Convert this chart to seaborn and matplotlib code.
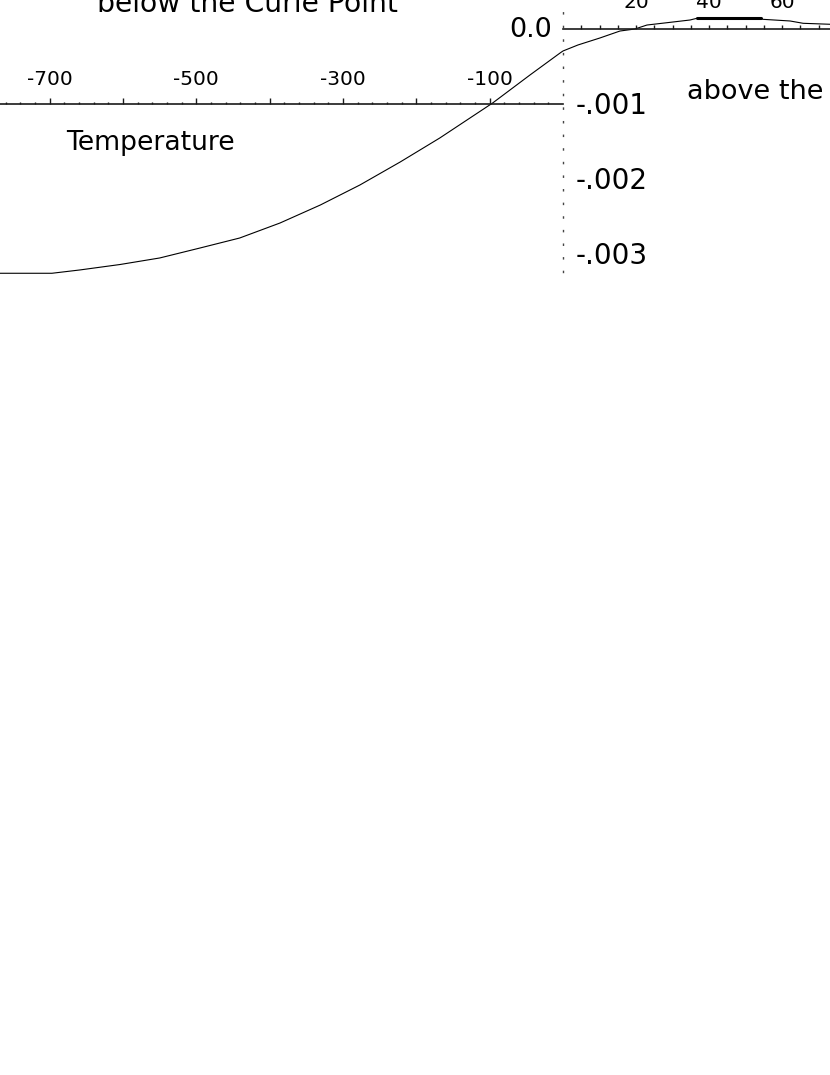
import numpy as np
import pandas as pd
import seaborn as sns
import matplotlib.pyplot as plt

# curve below the Curie point (left panel, temperature scale -770..0)
temp_below = [-768, -697, -659, -604, -550, -495, -441, -386, -331, -277,
              -222, -195, -168, -96, -45, -4, 0]
strain_below = [-0.003257, -0.003257, -0.003213, -0.00314, -0.003053, -0.00292,
                -0.002787, -0.002587, -0.002347, -0.00208, -0.001773, -0.001613,
                -0.001453, -0.000987, -0.000613, -0.00032, -0.000293]

# curve above the Curie point (right panel, temperature scale 0..73)
temp_above = [0, 4.1, 10.1, 15.6, 19.7, 23.0, 28.5, 34.8, 36.7, 54.2, 54.8,
              62.2, 65.8, 73.2]
strain_above = [-0.000293, -0.000213, -0.00012, -0.000027, 0.0, 0.000053,
                0.000084, 0.00012, 0.000143, 0.000143, 0.000129, 0.000107,
                0.000076, 0.000063]

# short bold plateau on the upper curve
plateau_temp = [36.7, 54.2]
plateau_strain = [0.000143, 0.000143]

left_ticks = [-700, -600, -500, -400, -300, -200, -100]
left_labels = ["-700", "", "-500", "", "-300", "", "-100"]
right_ticks = [5, 10, 15, 20, 25, 30, 35, 40, 45, 50, 55, 60, 65, 70]
right_labels = ["", "", "", "20", "", "", "", "40", "", "", "", "60", "", ""]
y_labels = ["-.001", "-.002", "-.003"]
y_label_vals = [-0.001, -0.002, -0.003]

sns.set_style("white")
plt.rcParams["font.family"] = ["DejaVu Sans"]
plt.rcParams["text.color"] = "black"
plt.rcParams["xtick.labelcolor"] = "black"

W, H = 830, 1075
fig = plt.figure(figsize=(W / 100, H / 100), dpi=100)
split = 563 / W
ax_l = fig.add_axes([0, 0, split, 1])
ax_r = fig.add_axes([split, 0, 1 - split, 1])

ylim = (-0.013947, 0.0003867)
axis_col = "#1a1a1a"

df_below = pd.DataFrame({"Temperature": temp_below, "strain": strain_below})
df_above = pd.DataFrame({"Temperature": temp_above, "strain": strain_above})

sns.lineplot(data=df_below, x="Temperature", y="strain", ax=ax_l,
             color="black", lw=0.8, estimator=None)
sns.lineplot(data=df_above, x="Temperature", y="strain", ax=ax_r,
             color="black", lw=0.8, estimator=None)
sns.lineplot(x=plateau_temp, y=plateau_strain, ax=ax_r,
             color="black", lw=2.2, estimator=None)

for ax in (ax_l, ax_r):
    ax.set_ylim(*ylim)
    ax.set_yticks([])
    ax.set_xlabel("")
    ax.set_ylabel("")
    ax.patch.set_alpha(0)
    for s in ("bottom", "right", "left"):
        ax.spines[s].set_visible(False)
    ax.xaxis.tick_top()
    ax.spines["top"].set_color(axis_col)
    ax.spines["top"].set_linewidth(1.2)

# left panel axis sits at -0.001
ax_l.set_xlim(-767.8, 0)
ax_l.spines["top"].set_position(("data", -0.001))
ax_l.set_xticks(left_ticks, labels=left_labels)
ax_l.set_xticks(np.arange(-760, 0, 20), minor=True)
ax_l.tick_params(axis="x", which="major", direction="out", length=4, width=1,
                 color=axis_col, pad=6.7, labelsize=14.5, labelcolor="black")
ax_l.tick_params(axis="x", which="minor", direction="out", length=1.2, width=1,
                 color=axis_col)

# right panel axis sits at 0
ax_r.set_xlim(0, 73.15)
ax_r.spines["top"].set_position(("data", 0))
ax_r.set_xticks(right_ticks, labels=right_labels)
ax_r.tick_params(axis="x", which="major", direction="out", length=3, width=1,
                 color=axis_col, pad=9.6, labelsize=14.5, labelcolor="black")

# dotted vertical axis
ax_r.spines["left"].set_visible(True)
ax_r.spines["left"].set_bounds(-0.00324, 0.00032)
ax_r.spines["left"].set_linestyle((0, (0.8, 9)))
ax_r.spines["left"].set_linewidth(1.0)
ax_r.spines["left"].set_color("#444444")

ax_l.annotate("0.0", xy=(0, 0), xytext=(-7.9, -5.8), textcoords="offset points",
              ha="right", va="baseline", fontsize=19.5, color="black",
              annotation_clip=False)
for lab, v in zip(y_labels, y_label_vals):
    ax_r.annotate(lab, xy=(0, v), xytext=(9.4, -7.0), textcoords="offset points",
                  ha="left", va="baseline", fontsize=20, color="black",
                  annotation_clip=False)

fig.text(96.5 / W, 1 - 12.3 / H, "below the Curie Point", ha="left",
         va="baseline", fontsize=20.3, color="black")
fig.text(687 / W, 1 - 99 / H, "above the Curie Point", ha="left",
         va="baseline", fontsize=19.5, color="black")
fig.text(66 / W, 1 - 149.5 / H, "Temperature", ha="left", va="baseline",
         fontsize=19.2, color="black")

fig.savefig("out.png", dpi=100)
